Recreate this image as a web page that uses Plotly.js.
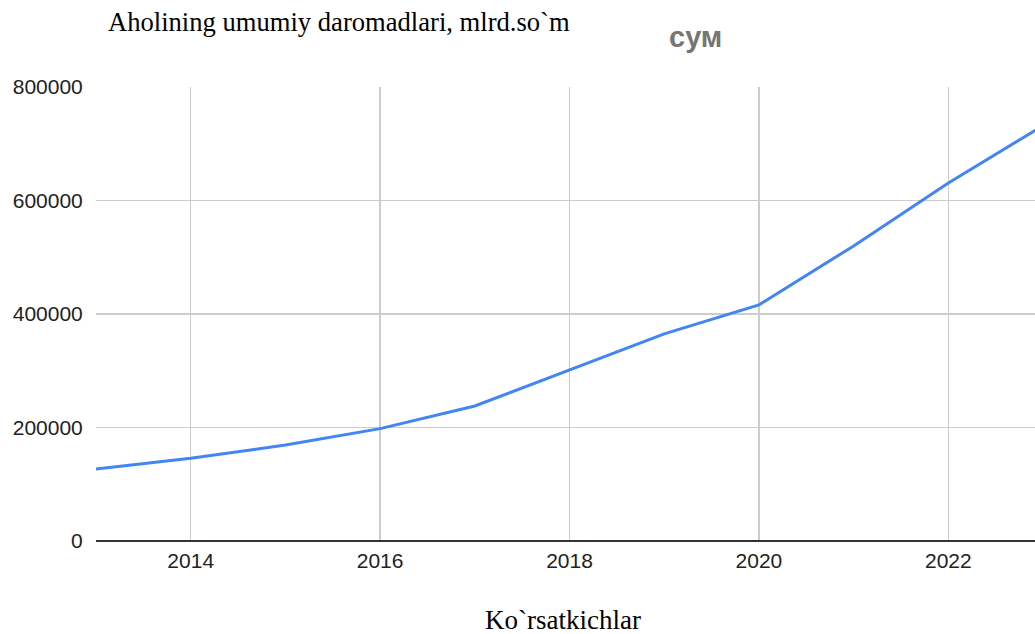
<!DOCTYPE html>
<html><head><meta charset="utf-8">
<script src="https://cdn.plot.ly/plotly-3.0.1.min.js"></script>
<style>html,body{margin:0;padding:0;background:#fff}#chart{width:1035px;height:634px}</style>
</head><body><div id="chart"></div>
<script>
const years = [2013, 2014, 2015, 2016, 2017, 2018, 2019, 2020, 2021, 2022, 2023];
const incomes = [127000, 146000, 169000, 198000, 238000, 301000, 365000, 416000, 520000, 631000, 732000];
const xTicks = [2014, 2016, 2018, 2020, 2022];
const yTicks = [0, 200000, 400000, 600000, 800000];
const chartTitle = "Aholining umumiy daromadlari, mlrd.so`m";
const seriesTitle = "сум";
const xTitle = "Ko`rsatkichlar";

const trace = {
  x: years, y: incomes, type: 'scatter', mode: 'lines',
  line: {color: '#4285F4', width: 3}, hoverinfo: 'x+y'
};
const layout = {
  width: 1035, height: 634,
  margin: {l: 96, r: 0, t: 87, b: 93},
  paper_bgcolor: '#fff', plot_bgcolor: '#fff',
  showlegend: false,
  font: {family: 'Liberation Sans, Arial, sans-serif', color: '#222', size: 21},
  xaxis: {
    range: [2013, 2022.915], tickvals: xTicks, ticktext: xTicks.map(String),
    showgrid: true, gridcolor: '#cccccc', gridwidth: 1.5, zeroline: false,
    showline: false, ticks: 'outside', ticklen: 1, tickcolor: 'rgba(0,0,0,0)',
    tickfont: {size: 21, color: '#222'}
  },
  yaxis: {
    range: [0, 800000], tickvals: yTicks, ticktext: yTicks.map(String),
    showgrid: true, gridcolor: '#cccccc', gridwidth: 1.5,
    zeroline: true, zerolinecolor: '#333', zerolinewidth: 2,
    showline: false, ticks: 'outside', ticklen: 8, tickcolor: 'rgba(0,0,0,0)',
    tickfont: {size: 21, color: '#222'}
  },
  annotations: [
    {text: chartTitle, xref: 'paper', yref: 'paper', x: (106-96)/939, y: 1, yshift: 87-22,
     xanchor: 'left', yanchor: 'middle', showarrow: false,
     font: {family: 'Liberation Serif, Times New Roman, serif', size: 26.6, color: '#000'}},
    {text: '<b>' + seriesTitle + '</b>', xref: 'paper', yref: 'paper', x: (695-96)/939, y: 1, yshift: 87-37,
     xanchor: 'center', yanchor: 'middle', showarrow: false,
     font: {family: 'Liberation Sans, Arial, sans-serif', size: 29, color: '#757575'}},
    {text: xTitle, xref: 'paper', yref: 'paper', x: (563-96)/939, y: 0, yshift: -(620-541),
     xanchor: 'center', yanchor: 'middle', showarrow: false,
     font: {family: 'Liberation Serif, Times New Roman, serif', size: 27, color: '#000'}}
  ]
};
Plotly.newPlot('chart', [trace], layout, {displayModeBar: false, staticPlot: true});
</script></body></html>
